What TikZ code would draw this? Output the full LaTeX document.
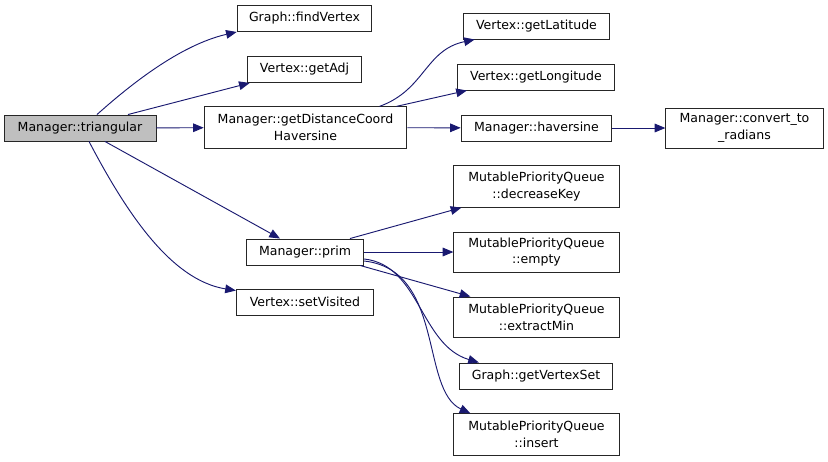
\documentclass[tikz,border=0pt]{standalone}
\usepackage{fontspec}
\setmainfont{DejaVu Sans}
\usepackage{tikz}
\usetikzlibrary{arrows.meta,calc}
\definecolor{edgeblue}{HTML}{191970}

\begin{document}
\begin{tikzpicture}[x=0.75pt,y=-0.75pt, >={Triangle[length=8pt,width=6.5pt]}, font=\fontsize{9.4}{12.5}\selectfont,
  fn/.style={draw=black!85,line width=0.7pt,fill=white,inner sep=0pt,align=center,minimum height=19.5pt},
  call/.style={->,draw=edgeblue,line width=0.7pt}]
  \useasboundingbox (0,0) rectangle (828,461);
  \node[fn,fill=black!25,minimum width=114pt] (tri) at (80,128) {Manager::triangular};
  \node[fn,minimum width=101pt] (fv)  at (304.5,18.5) {Graph::findVertex};
  \node[fn,minimum width=86pt]  (adj) at (304.5,69.5) {Vertex::getAdj};
  \node[fn,minimum width=152pt,minimum height=31pt] (gdc) at (305.5,127.5) {Manager::getDistanceCoord\\Haversine};
  \node[fn,minimum width=110pt] (lat) at (536.5,26) {Vertex::getLatitude};
  \node[fn,minimum width=118pt] (lon) at (536,77) {Vertex::getLongitude};
  \node[fn,minimum width=113pt] (hav) at (536.5,128) {Manager::haversine};
  \node[fn,minimum width=118pt,minimum height=30pt] (rad) at (744.5,128) {Manager::convert\_to\\\_radians};
  \node[fn,minimum width=88pt]  (prim) at (305,252) {Manager::prim};
  \node[fn,minimum width=103pt] (sv)  at (305,302) {Vertex::setVisited};
  \node[fn,minimum width=124pt,minimum height=31pt] (dk)  at (536.5,186.5) {MutablePriorityQueue\\::decreaseKey};
  \node[fn,minimum width=124pt,minimum height=30pt] (emp) at (536.5,252) {MutablePriorityQueue\\::empty};
  \node[fn,minimum width=124pt,minimum height=30pt] (exm) at (536.5,317) {MutablePriorityQueue\\::extractMin};
  \node[fn,minimum width=115pt] (gvs) at (536,376) {Graph::getVertexSet};
  \node[fn,minimum width=124pt,minimum height=31pt] (ins) at (536.5,434.5) {MutablePriorityQueue\\::insert};
  % calls from triangular
  \draw[call] ($(tri.north)+(17,0)$) .. controls (130,85) and (180,45) .. ($(fv.south west)+(0,0)$);
  \draw[call] ($(tri.north)+(48,0)$) -- ($(adj.south west)+(3,0)$);
  \draw[call] (tri) -- (gdc);
  \draw[call] ($(tri.south)+(25,0)$) -- ($(prim.north)+(-25,0)$);
  \draw[call] ($(tri.south)+(9,0)$) .. controls (125,210) and (170,280) .. ($(sv.north west)+(0,2)$);
  % calls from getDistanceCoordHaversine
  \draw[call] ($(gdc.north)+(74,0)$) .. controls (425,90) and (425,50) .. ($(lat.south west)+(12,0)$);
  \draw[call] ($(gdc.north)+(91,0)$) -- ($(lon.south west)+(10,0)$);
  \draw[call] (gdc) -- (hav);
  \draw[call] (hav) -- (rad);
  % calls from prim
  \draw[call] ($(prim.north)+(45,0)$) -- ($(dk.south west)+(8,0)$);
  \draw[call] (prim) -- (emp);
  \draw[call] ($(prim.south east)+(-4,0)$) -- ($(exm.north west)+(17,0)$);
  \draw[call] ($(prim.east)+(0,7)$) .. controls (420,265) and (420,345) .. ($(gvs.north west)+(20,0)$);
  \draw[call] ($(prim.east)+(0,9)$) .. controls (445,270) and (420,390) .. ($(ins.north west)+(17,0)$);
\end{tikzpicture}
\end{document}
